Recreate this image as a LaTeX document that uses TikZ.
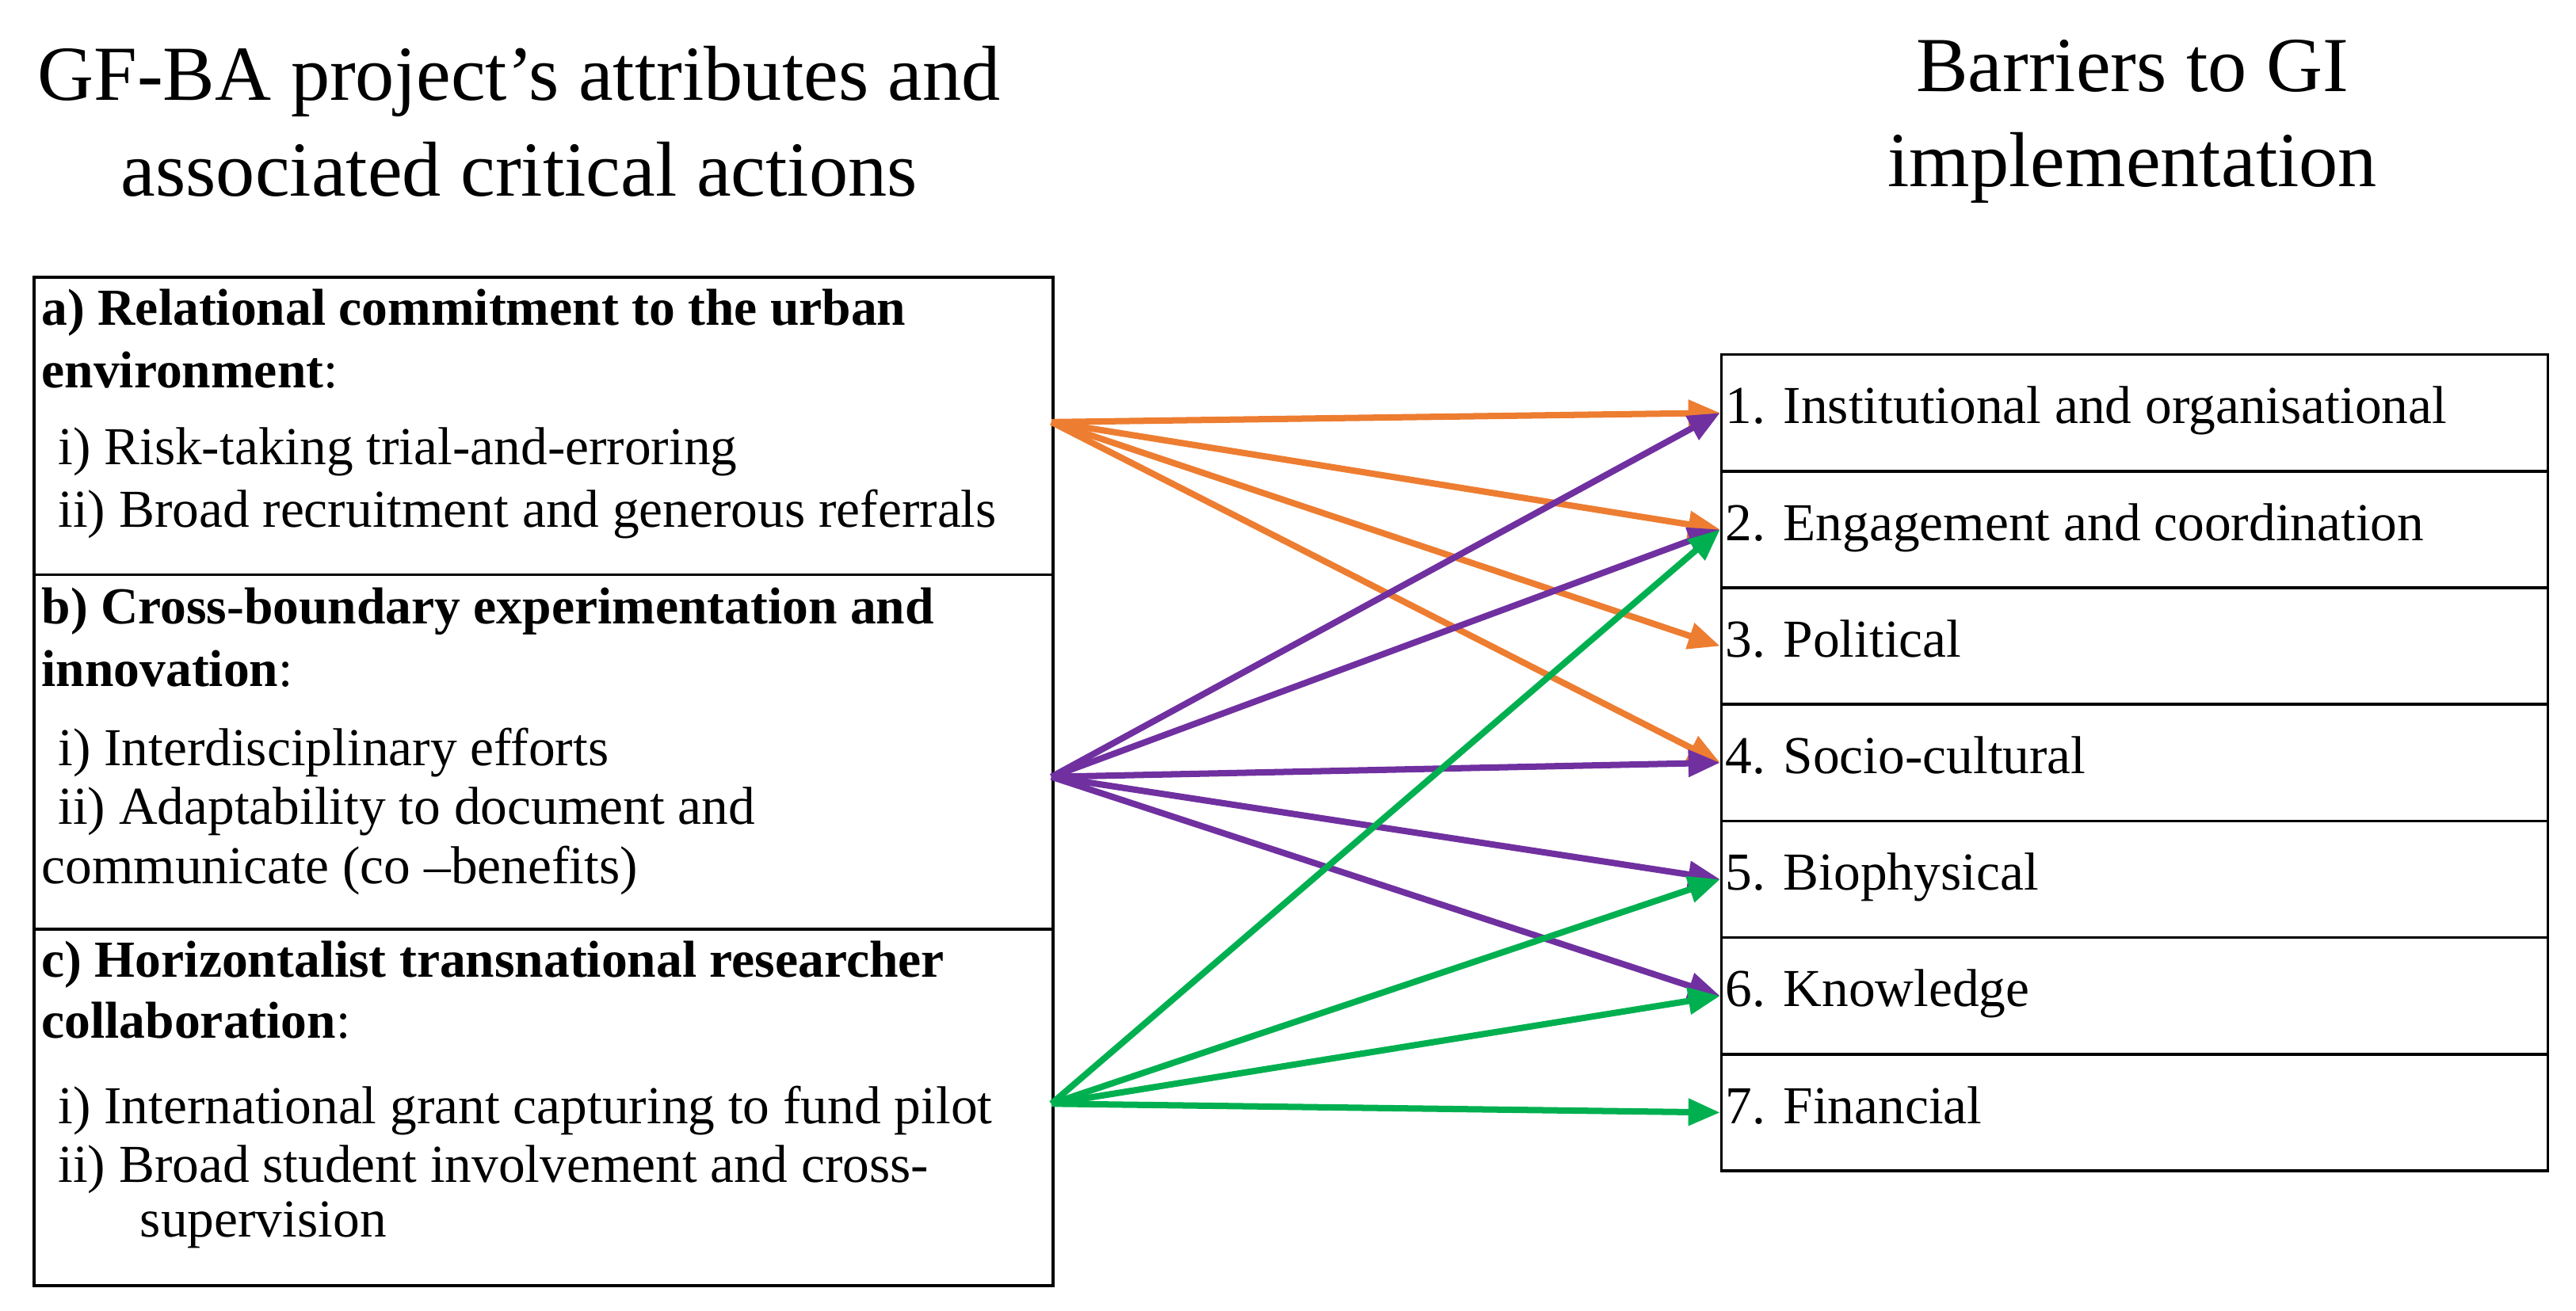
\documentclass[tikz,border=0pt]{standalone}
\usepackage{fontspec}
\setmainfont{Liberation Serif}
\usetikzlibrary{arrows.meta}
\definecolor{org}{RGB}{237,125,49}
\definecolor{pur}{RGB}{112,48,160}
\definecolor{grn}{RGB}{0,176,80}
\begin{document}
\begin{tikzpicture}[x=0.02cm,y=-0.02cm,
  head/.style={font=\fontsize{27}{33}\selectfont,align=center},
  txt/.style={anchor=base west,inner sep=0,font=\fontsize{18.5}{21}\selectfont},
  btxt/.style={anchor=base west,inner sep=0,font=\fontsize{18}{21}\selectfont},
  box/.style={draw,line width=1pt},
  arr/.style={line width=2.2pt,-{Triangle[length=11pt,width=9pt]}}]
\useasboundingbox (0,0) rectangle (1568,798);
\node[head] (h1) at (316,74) {GF-BA project’s attributes and\\associated critical actions};
\node[head] (h2) at (1298,74) {Barriers to GI\\implementation};
% left box
\node[box,minimum width=620*0.02cm,minimum height=181*0.02cm,anchor=north west,inner sep=0] (la) at (20,168) {};
\node[box,minimum width=620*0.02cm,minimum height=216*0.02cm,anchor=north west,inner sep=0] (lb) at (20,349) {};
\node[box,minimum width=620*0.02cm,minimum height=217*0.02cm,anchor=north west,inner sep=0] (lc) at (20,565) {};
\node[btxt] (ta1) at (25,198) {\textbf{a) Relational commitment to the urban}};
\node[btxt] (ta2) at (25,236) {\textbf{environment}:};
\node[txt] (ta3) at (35,283) {i) Risk-taking trial-and-erroring};
\node[txt] (ta4) at (35,321) {ii) Broad recruitment and generous referrals};
\node[btxt] (tb1) at (25,380) {\textbf{b) Cross-boundary experimentation and}};
\node[btxt] (tb2) at (25,418) {\textbf{innovation}:};
\node[txt] (tb3) at (35,466) {i) Interdisciplinary efforts};
\node[txt] (tb4) at (35,502) {ii) Adaptability to document and};
\node[txt] (tb5) at (25,538) {communicate (co –benefits)};
\node[btxt] (tc1) at (25,595) {\textbf{c) Horizontalist transnational researcher}};
\node[btxt] (tc2) at (25,632) {\textbf{collaboration}:};
\node[txt] (tc3) at (35,684) {i) International grant capturing to fund pilot};
\node[txt] (tc4) at (35,720) {ii) Broad student involvement and cross-};
\node[txt] (tc5) at (85,753) {supervision};
% right box
\foreach \i/\t in {1/1. Institutional and organisational,2/2. Engagement and coordination,3/3. Political,4/4. Socio-cultural,5/5. Biophysical,6/6. Knowledge,7/7. Financial}{
  \node[box,minimum width=503*0.02cm,minimum height=71*0.02cm,anchor=north west,inner sep=0] (r\i) at (1047,{215+71*(\i-1)}) {};
  \node[txt] (rt\i) at (1050,{258+71*(\i-1)}) {\t};
}
\coordinate (oa) at (640,257);
\coordinate (ob) at (640,473);
\coordinate (oc) at (640,672);
\foreach \i in {1,2,3,4} \draw[arr,org] (oa) -- (r\i.west);
\foreach \i in {1,2,4,5,6} \draw[arr,pur] (ob) -- (r\i.west);
\foreach \i in {2,5,6,7} \draw[arr,grn] (oc) -- (r\i.west);
\end{tikzpicture}
\end{document}
